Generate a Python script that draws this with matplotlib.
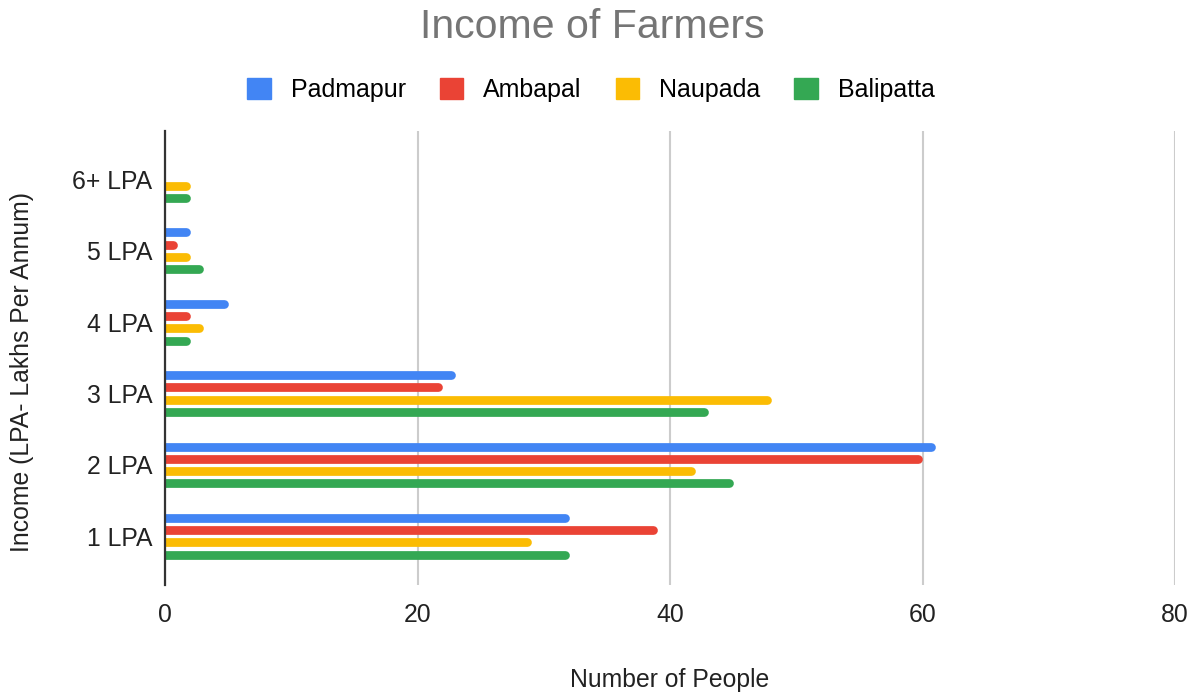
import matplotlib.pyplot as plt
import matplotlib.transforms as mtransforms
from matplotlib.patches import Patch
import numpy as np

plt.rcParams["font.family"] = ["Liberation Sans", "DejaVu Sans"]

categories = ["1 LPA", "2 LPA", "3 LPA", "4 LPA", "5 LPA", "6+ LPA"]
padmapur = [32, 61, 23, 5, 2, 0]
ambapal = [39, 60, 22, 2, 1, 0]
naupada = [29, 42, 48, 3, 2, 2]
balipatta = [32, 45, 43, 2, 3, 2]

series = [
    ("Padmapur", padmapur, "#4285F4"),
    ("Ambapal", ambapal, "#EA4335"),
    ("Naupada", naupada, "#FBBC04"),
    ("Balipatta", balipatta, "#34A853"),
]

fig = plt.figure(figsize=(12, 6.93), dpi=100)
ax = fig.add_axes([0.1375, 0.156, 0.8417, 0.655])

y = np.arange(len(categories))
pitch = 0.172
bar_lw = 6.3  # bar thickness in points

# shift each bar left by half its width so the round cap ends at the value
shifted = mtransforms.offset_copy(ax.transData, fig=fig, x=-bar_lw / 2, units="points")
for i, (name, vals, col) in enumerate(series):
    yy = y + (1.5 - i) * pitch
    ax.hlines(yy, 0, vals, colors=col, lw=bar_lw, transform=shifted,
              capstyle="round", zorder=3)

ax.set_xlim(0, 80)
ax.set_ylim(-0.68, len(categories) - 1 + 0.68)
ax.set_xticks([0, 20, 40, 60, 80])
ax.set_yticks(y)
ax.set_yticklabels(categories)
ax.tick_params(axis="both", length=0, labelsize=17.8, colors="#222222")
ax.tick_params(axis="x", pad=13)
ax.tick_params(axis="y", pad=9)

ax.grid(axis="x", color="#cccccc", lw=1.5, zorder=0)
ax.set_axisbelow(True)
for side in ["top", "right", "bottom"]:
    ax.spines[side].set_visible(False)
ax.spines["left"].set_color("#333333")
ax.spines["left"].set_linewidth(1.6)
ax.spines["left"].set_zorder(4)

fig.text(592 / 1200, 1 - 27 / 693, "Income of Farmers", ha="center", va="center",
         fontsize=29.5, color="#757575")
fig.text(670 / 1200, 1 - 680 / 693, "Number of People", ha="center",
         va="center", fontsize=17.8, color="#222222")
fig.text(22 / 1200, 1 - 372 / 693, "Income (LPA- Lakhs Per Annum)",
         ha="center", va="center", rotation=90, fontsize=17.8, color="#222222")

handles = [Patch(facecolor=c, edgecolor=c, label=n) for n, _, c in series]
fig.legend(handles=handles, loc="center", bbox_to_anchor=(591 / 1200, 1 - 90 / 693),
           ncol=4, frameon=False, fontsize=18, handlelength=0.95,
           handleheight=0.95, handletextpad=0.8, columnspacing=1.35)

fig.savefig("out.png", dpi=100)
